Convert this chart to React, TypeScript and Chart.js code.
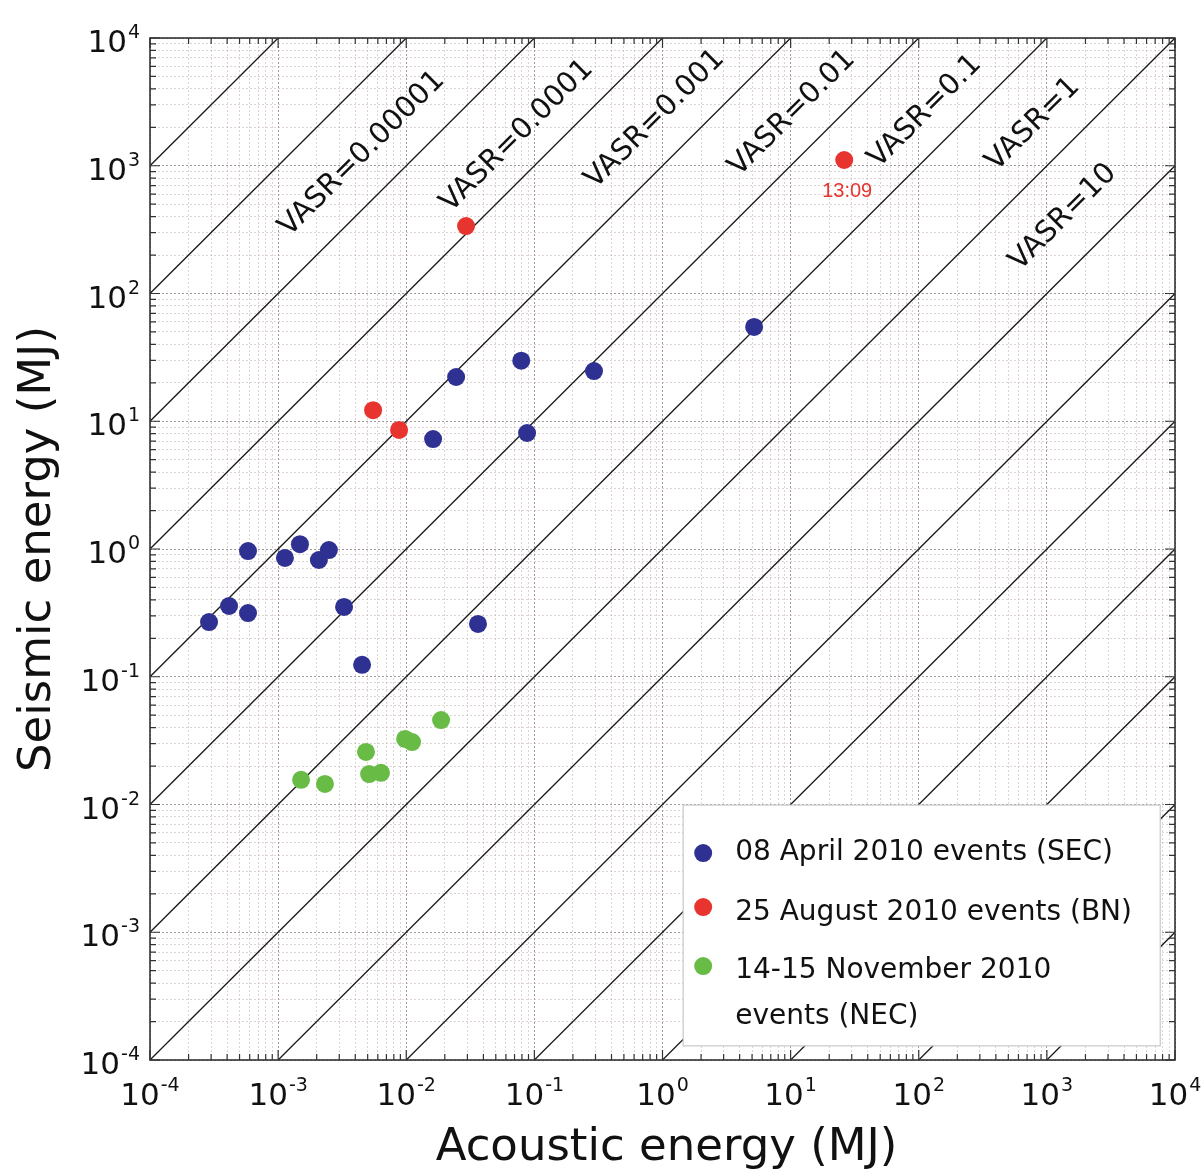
import React, { useEffect, useRef } from "react";
import { Chart, registerables } from "chart.js";

Chart.register(...registerables);

// ---- data ----
const secAcoustic = [2.89e-4, 4.14e-4, 5.82e-4, 5.82e-4, 1.13e-3, 1.48e-3, 2.08e-3, 2.49e-3, 3.27e-3, 4.52e-3, 0.0162, 0.0245, 0.0363, 0.079, 0.0877, 0.292, 5.19];
const secSeismic = [0.268, 0.358, 0.315, 0.964, 0.851, 1.09, 0.82, 0.98, 0.352, 0.124, 7.26, 22.2, 0.259, 29.8, 8.09, 24.7, 54.7];

const bnAcoustic = [0.0293, 5.51e-3, 8.79e-3, 26.2];
const bnSeismic = [337, 12.2, 8.55, 1109];

const necAcoustic = [1.51e-3, 2.32e-3, 4.85e-3, 5.13e-3, 6.35e-3, 9.8e-3, 0.0111, 0.0187];
const necSeismic = [0.0156, 0.0145, 0.0258, 0.0173, 0.0177, 0.0326, 0.0308, 0.0458];

const seriesNames = ["08 April 2010 events (SEC)", "25 August 2010 events (BN)", "14-15 November 2010 events (NEC)"];
const legendLines = [["08 April 2010 events (SEC)"], ["25 August 2010 events (BN)"], ["14-15 November 2010", "events (NEC)"]];
const seriesColors = ["#2E3192", "#E8342F", "#68BC46"];

// VASR = acoustic / seismic reference lines (powers of ten)
const vasrExponents = [-7, -6, -5, -4, -3, -2, -1, 0, 1, 2, 3, 4, 5, 6, 7];
const vasrLabelTexts = ["VASR=0.00001", "VASR=0.0001", "VASR=0.001", "VASR=0.01", "VASR=0.1", "VASR=1", "VASR=10"];
const vasrLabelRatios = [1e-5, 1e-4, 1e-3, 1e-2, 1e-1, 1, 10];
const vasrLabelAcoustic = [4.52e-3, 0.0733, 0.875, 10.3, 112, 782, 1340];
const vasrLabelLift = [56, 47, 54, 51, 48, 55, 60];

const annotationText = "13:09";
const annotationIndex = 3; // BN point

const axisMin = 1e-4;
const axisMax = 1e4;
const tickExponents = [-4, -3, -2, -1, 0, 1, 2, 3, 4];
const xTitle = "Acoustic energy (MJ)";
const yTitle = "Seismic energy (MJ)";

const FONT = "'DejaVu Sans', sans-serif";

function allTicks(): number[] {
  const out: number[] = [];
  for (let e = tickExponents[0]; e <= tickExponents[tickExponents.length - 1]; e++) {
    for (let m = 1; m <= 9; m++) {
      const v = m * Math.pow(10, e);
      if (v <= axisMax * 1.0000001) out.push(v);
    }
  }
  return out;
}
const isMajor = (v: number) => {
  const l = Math.log10(v);
  return Math.abs(l - Math.round(l)) < 1e-9;
};

const overlayPlugin = {
  id: "overlay",
  afterDatasetsDraw(chart: any) {
    const ctx = chart.ctx as CanvasRenderingContext2D;
    const xs = chart.scales.x;
    const ys = chart.scales.y;
    const ca = chart.chartArea;

    // VASR labels
    ctx.save();
    ctx.fillStyle = "#111";
    ctx.font = `29px ${FONT}`;
    ctx.textAlign = "center";
    ctx.textBaseline = "middle";
    vasrLabelTexts.forEach((t, i) => {
      const r = vasrLabelRatios[i];
      const a = vasrLabelAcoustic[i];
      const px = xs.getPixelForValue(a);
      const py = ys.getPixelForValue(a / r);
      const qx = xs.getPixelForValue(a * 10);
      const qy = ys.getPixelForValue((a * 10) / r);
      const ang = Math.atan2(qy - py, qx - px);
      ctx.save();
      ctx.translate(px, py - vasrLabelLift[i]);
      ctx.rotate(ang);
      ctx.fillText(t, 0, 0);
      ctx.restore();
    });
    ctx.restore();

    // annotation
    ctx.save();
    ctx.fillStyle = "#E8342F";
    ctx.font = `20px 'Liberation Sans', Arial, sans-serif`;
    ctx.textAlign = "center";
    ctx.textBaseline = "middle";
    ctx.fillText(annotationText, xs.getPixelForValue(bnAcoustic[annotationIndex]) + 3, ys.getPixelForValue(bnSeismic[annotationIndex]) + 31);
    ctx.restore();

    // frame & inward ticks
    ctx.save();
    ctx.strokeStyle = "#333";
    ctx.lineWidth = 1.2;
    const tv = allTicks();
    ctx.beginPath();
    tv.forEach((v) => {
      const L = isMajor(v) ? 10 : 6;
      const x = xs.getPixelForValue(v);
      const y = ys.getPixelForValue(v);
      ctx.moveTo(x, ca.bottom); ctx.lineTo(x, ca.bottom - L);
      ctx.moveTo(x, ca.top); ctx.lineTo(x, ca.top + L);
      ctx.moveTo(ca.left, y); ctx.lineTo(ca.left + L, y);
      ctx.moveTo(ca.right, y); ctx.lineTo(ca.right - L, y);
    });
    ctx.stroke();
    ctx.lineWidth = 1.6;
    ctx.strokeRect(ca.left, ca.top, ca.right - ca.left, ca.bottom - ca.top);
    ctx.restore();

    // tick labels: 10 with superscript exponent
    ctx.save();
    ctx.fillStyle = "#111";
    ctx.textBaseline = "alphabetic";
    ctx.textAlign = "left";
    const big = `31px ${FONT}`;
    const small = `19px ${FONT}`;
    tickExponents.forEach((e) => {
      const v = Math.pow(10, e);
      const es = String(e);
      ctx.font = big;
      const wb = ctx.measureText("10").width;
      ctx.font = small;
      const we = ctx.measureText(es).width;
      // x axis
      const x = xs.getPixelForValue(v);
      const x0 = x - (wb + we + 1) / 2;
      ctx.font = big;
      ctx.fillText("10", x0, ca.bottom + 45);
      ctx.font = small;
      ctx.fillText(es, x0 + wb + 1, ca.bottom + 31);
      // y axis
      const y = ys.getPixelForValue(v);
      const xr = ca.left - 10;
      ctx.font = big;
      ctx.fillText("10", xr - we - 1 - wb, y + 14);
      ctx.font = small;
      ctx.fillText(es, xr - we, y);
    });
    ctx.restore();

    // legend box
    ctx.save();
    const lx = xs.getPixelForValue(1.45);
    const lx2 = xs.getPixelForValue(7670);
    const ly = ys.getPixelForValue(0.0099);
    const ly2 = ys.getPixelForValue(1.29e-4);
    ctx.fillStyle = "#fff";
    ctx.fillRect(lx, ly, lx2 - lx, ly2 - ly);
    ctx.strokeStyle = "#c8c8c8";
    ctx.lineWidth = 1.2;
    ctx.strokeRect(lx, ly, lx2 - lx, ly2 - ly);
    ctx.font = `28px ${FONT}`;
    ctx.textAlign = "left";
    ctx.textBaseline = "middle";
    const rowY = [ly + 48, ly + 108, ly + 166];
    const dotY = [ly + 48, ly + 102, ly + 161];
    legendLines.forEach((lines, i) => {
      ctx.fillStyle = seriesColors[i];
      ctx.beginPath();
      ctx.arc(lx + 20, dotY[i], 9, 0, Math.PI * 2);
      ctx.fill();
      ctx.fillStyle = "#111";
      lines.forEach((ln, j) => ctx.fillText(ln, lx + 52, rowY[i] + j * 46));
    });
    ctx.restore();

    // axis titles
    ctx.save();
    ctx.fillStyle = "#111";
    ctx.font = `45px ${FONT}`;
    ctx.textAlign = "center";
    ctx.textBaseline = "middle";
    ctx.fillText(xTitle, (ca.left + ca.right) / 2 + 4, 1148);
    ctx.translate(38, (ca.top + ca.bottom) / 2);
    ctx.rotate(-Math.PI / 2);
    ctx.fillText(yTitle, 0, 0);
    ctx.restore();
  },
};

export default function App() {
  const ref = useRef<HTMLCanvasElement | null>(null);
  useEffect(() => {
    if (!ref.current) return;
    const lineSets = vasrExponents.map((e) => {
      const r = Math.pow(10, e);
      const x0 = Math.max(axisMin, axisMin * r);
      const x1 = Math.min(axisMax, axisMax * r);
      return {
        type: "line" as const,
        label: `VASR 1e${e}`,
        data: [{ x: x0, y: x0 / r }, { x: x1, y: x1 / r }],
        borderColor: "#1a1a1a",
        borderWidth: 1.3,
        pointRadius: 0,
        fill: false,
        order: 10,
      };
    });
    const mk = (ax: number[], sy: number[], i: number) => ({
      type: "scatter" as const,
      label: seriesNames[i],
      data: ax.map((x, k) => ({ x, y: sy[k] })),
      backgroundColor: seriesColors[i],
      borderColor: seriesColors[i],
      borderWidth: 0,
      pointRadius: 9,
      order: 1,
    });
    const gridColor = (c: any) => (c.tick && isMajor(c.tick.value) ? "rgba(120,112,112,0.7)" : "rgba(190,170,170,0.5)");
    const chart = new Chart(ref.current, {
      type: "scatter",
      data: { datasets: [...lineSets, mk(secAcoustic, secSeismic, 0), mk(bnAcoustic, bnSeismic, 1), mk(necAcoustic, necSeismic, 2)] as any },
      options: {
        animation: false,
        responsive: true,
        maintainAspectRatio: false,
        layout: { padding: { left: 0, top: 38, right: 29, bottom: 0 } },
        plugins: { legend: { display: false }, tooltip: { enabled: false } },
        scales: {
          x: {
            type: "logarithmic",
            min: axisMin,
            max: axisMax,
            afterBuildTicks: (s: any) => { s.ticks = allTicks().map((value) => ({ value })); },
            afterFit: (s: any) => { s.height = 116; s.paddingLeft = 0; s.paddingRight = 0; },
            ticks: { display: false },
            grid: { color: gridColor, lineWidth: 1, drawTicks: false },
            border: { display: false, dash: [2, 2] },
          },
          y: {
            type: "logarithmic",
            min: axisMin,
            max: axisMax,
            afterBuildTicks: (s: any) => { s.ticks = allTicks().map((value) => ({ value })); },
            afterFit: (s: any) => { s.width = 150; s.paddingTop = 0; s.paddingBottom = 0; },
            ticks: { display: false },
            grid: { color: gridColor, lineWidth: 1, drawTicks: false },
            border: { display: false, dash: [2, 2] },
          },
        },
      } as any,
      plugins: [overlayPlugin],
    });
    return () => chart.destroy();
  }, []);
  return (
    <div style={{ position: "fixed", left: 0, top: 0, width: 1204, height: 1176, background: "#fff" }}>
      <canvas ref={ref} />
    </div>
  );
}
